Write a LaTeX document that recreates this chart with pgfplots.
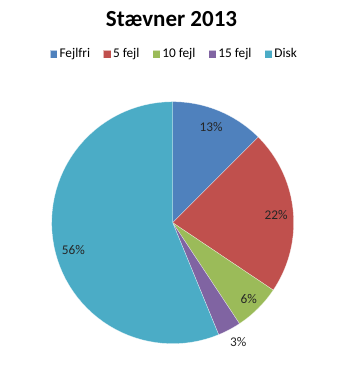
\documentclass[border=0pt]{standalone}
\usepackage{fontspec}
\setmainfont{Carlito}
\usepackage{pgfplots}
\pgfplotsset{compat=1.18}
\definecolor{cA}{HTML}{4F81BD}
\definecolor{cB}{HTML}{C0504D}
\definecolor{cC}{HTML}{9BBB59}
\definecolor{cD}{HTML}{8064A2}
\definecolor{cE}{HTML}{4BACC6}
% shares in percent
\def\pA{12.5}\def\pB{21.9}\def\pC{6.3}\def\pD{3.1}\def\pE{56.2}
\pgfmathsetmacro\aA{90}
\pgfmathsetmacro\aB{\aA-3.6*\pA}
\pgfmathsetmacro\aC{\aB-3.6*\pB}
\pgfmathsetmacro\aD{\aC-3.6*\pC}
\pgfmathsetmacro\aE{\aD-3.6*\pD}
\pgfmathsetmacro\aF{\aE-3.6*\pE}
\newcommand\slice[3]{%
  \addplot[fill=#1, draw=white, line width=0.4bp, draw opacity=0.6,
    samples at={-1,0,1,...,60,61}, variable=\t]
    ({(\t>=0)*(\t<=60)*cos(#2+\t*(#3-#2)/60)},
     {(\t>=0)*(\t<=60)*sin(#2+\t*(#3-#2)/60)});}
\pgfplotsset{sqlegend/.style={legend image code/.code={\fill[#1] (0bp,-3.8bp) rectangle (7.6bp,3.8bp);}}}
\begin{document}
\begin{tikzpicture}
\path[use as bounding box] (-172.7bp,-153.3bp) rectangle (185.3bp,222.7bp);
\begin{axis}[
  at={(0,0)}, anchor=origin,
  x=121bp, y=121bp,
  xmin=-1.1, xmax=1.1, ymin=-1.1, ymax=1.1,
  hide axis, clip=false,
  font=\fontsize{13.3bp}{16bp}\selectfont,
  legend columns=5,
  legend style={at={(axis cs:0.013,1.394)}, anchor=center, draw=none, fill=none,
    font=\fontsize{13.3bp}{16bp}\selectfont, inner sep=0pt,
    /tikz/every even column/.append style={column sep=11bp}},
  legend cell align=left,
  sqlegend,
]
\slice{cA}{\aA}{\aB}
\addlegendentry{Fejlfri}
\slice{cB}{\aB}{\aC}
\addlegendentry{5 fejl}
\slice{cC}{\aC}{\aD}
\addlegendentry{10 fejl}
\slice{cD}{\aD}{\aE}
\addlegendentry{15 fejl}
\slice{cE}{\aE}{\aF}
\addlegendentry{Disk}
\node[text=black!85] at (axis cs:0.317,0.793) {13\%};
\node[text=black!85] at (axis cs:0.854,0.064) {22\%};
\node[text=black!85] at (axis cs:0.628,-0.628) {6\%};
\node[text=black!85] at (axis cs:0.542,-0.988) {3\%};
\node[text=black!85] at (axis cs:-0.821,-0.226) {56\%};
\end{axis}
\node[font=\fontsize{23bp}{27bp}\selectfont\bfseries] at (-1.2bp,203.7bp) {Stævner 2013};
\end{tikzpicture}
\end{document}
